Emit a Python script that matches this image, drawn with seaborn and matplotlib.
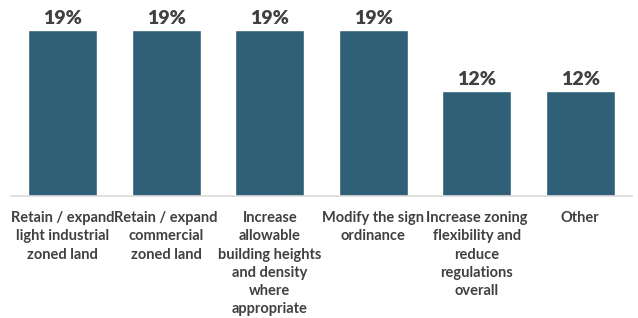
import seaborn as sns
import matplotlib.pyplot as plt
import pandas as pd

sns.set_style("white")
plt.rcParams['font.family'] = ['Lato', 'DejaVu Sans']

categories = [
    "Retain / expand\nlight industrial\nzoned land",
    "Retain / expand\ncommercial\nzoned land",
    "Increase\nallowable\nbuilding heights\nand density\nwhere\nappropriate",
    "Modify the sign\nordinance",
    "Increase zoning\nflexibility and\nreduce\nregulations\noverall",
    "Other",
]
values = [19, 19, 19, 19, 12, 12]

df = pd.DataFrame({"category": categories, "pct": values})

bar_color = "#305F78"
text_color = "#404040"

fig = plt.figure(figsize=(6.38, 3.18), dpi=100)
ax = fig.add_axes([11 / 638, (318 - 196) / 318, 621 / 638, 196 / 318])

sns.barplot(data=df, x="category", y="pct", color=bar_color, width=0.667,
            saturation=1, ax=ax)

for i, v in enumerate(values):
    ax.text(i, v + 0.3, f"{v}%", ha="center", va="bottom", fontsize=14,
            fontweight="heavy", color=text_color)

ax.set_ylim(0, 22.4)
ax.set_xlim(-0.5, len(values) - 0.5)
ax.set_xlabel("")
ax.set_ylabel("")
ax.set_yticks([])
ax.tick_params(axis="x", length=0, pad=11)
for lbl in ax.get_xticklabels():
    lbl.set_fontsize(10.5)
    lbl.set_fontweight("bold")
    lbl.set_color(text_color)
    lbl.set_linespacing(1.38)

for s in ["top", "right", "left"]:
    ax.spines[s].set_visible(False)
ax.spines["bottom"].set_color("#D9D9D9")
ax.spines["bottom"].set_linewidth(1.2)

fig.savefig("out.png", dpi=100)
plt.close(fig)
